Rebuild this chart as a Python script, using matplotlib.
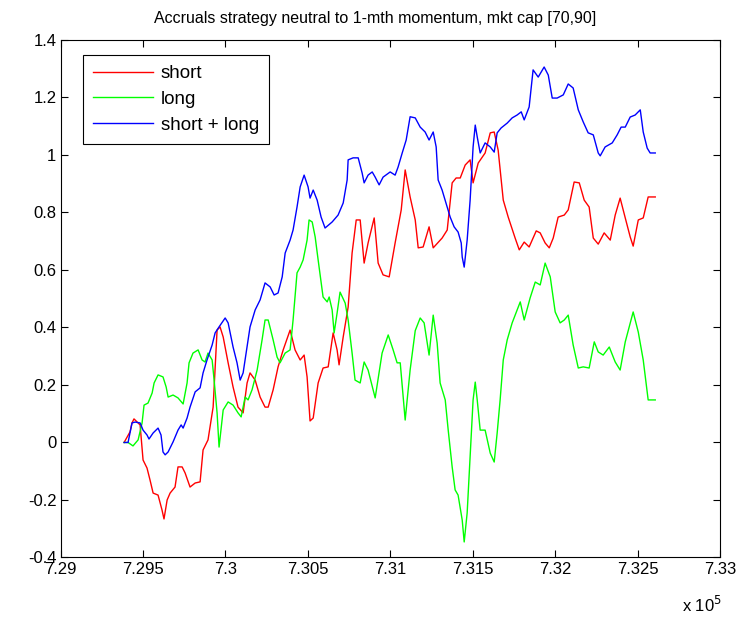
import matplotlib
matplotlib.use("Agg")
import matplotlib.pyplot as plt
from matplotlib.ticker import FuncFormatter

plt.rcParams['font.family'] = ['Liberation Sans', 'DejaVu Sans']

# dates are matlab datenums
short_dates = [729385, 729421, 729433, 729445, 729482, 729500, 729524, 729542, 729561, 729591,
               729615, 729627, 729646, 729664, 729694, 729712, 729737, 729755, 729785, 729816,
               729846, 729864, 729894, 729925, 729949, 729967, 729986, 730016, 730046, 730076,
               730107, 730131, 730149, 730180, 730210, 730240, 730259, 730289, 730319, 730350,
               730392, 730422, 730453, 730477, 730495, 730513, 730532, 730562, 730592, 730623,
               730653, 730677, 730689, 730714, 730744, 730768, 730793, 730817, 730841, 730865,
               730902, 730926, 730956, 730993, 731029, 731066, 731090, 731120, 731151, 731169,
               731199, 731235, 731260, 731314, 731345, 731375, 731399, 731424, 731454, 731484,
               731502, 731533, 731575, 731606, 731630, 731654, 731685, 731715, 731757, 731782,
               731812, 731842, 731885, 731909, 731939, 731964, 731988, 732018, 732055, 732079,
               732115, 732146, 732176, 732206, 732231, 732261, 732297, 732334, 732364, 732394,
               732425, 732455, 732473, 732504, 732534, 732564, 732607]
short = [0.0, 0.037, 0.068, 0.082, 0.061, -0.061, -0.089, -0.130, -0.176, -0.183,
         -0.235, -0.266, -0.200, -0.176, -0.155, -0.085, -0.085, -0.106, -0.155, -0.141,
         -0.137, -0.026, 0.009, 0.123, 0.391, 0.402, 0.367, 0.277, 0.193, 0.123,
         0.103, 0.207, 0.242, 0.217, 0.158, 0.123, 0.123, 0.183, 0.263, 0.322,
         0.391, 0.322, 0.287, 0.304, 0.228, 0.075, 0.085, 0.207, 0.259, 0.263,
         0.381, 0.322, 0.270, 0.367, 0.471, 0.659, 0.774, 0.774, 0.624, 0.694,
         0.781, 0.624, 0.583, 0.576, 0.694, 0.809, 0.948, 0.854, 0.774, 0.677,
         0.680, 0.750, 0.677, 0.711, 0.739, 0.903, 0.920, 0.920, 0.965, 0.983,
         0.903, 0.972, 1.007, 1.077, 1.080, 1.017, 0.843, 0.784, 0.711, 0.670,
         0.697, 0.680, 0.736, 0.729, 0.694, 0.677, 0.711, 0.784, 0.791, 0.809,
         0.906, 0.903, 0.843, 0.819, 0.711, 0.690, 0.729, 0.704, 0.791, 0.850,
         0.781, 0.715, 0.683, 0.774, 0.781, 0.854, 0.854]

long_dates = [729385, 729409, 729439, 729470, 729494, 729506, 729530, 729555, 729567, 729591,
              729621, 729640, 729652, 729682, 729712, 729743, 729767, 729779, 729803, 729834,
              729858, 729876, 729894, 729919, 729931, 729949, 729961, 729986, 730016, 730046,
              730076, 730095, 730119, 730137, 730161, 730192, 730222, 730240, 730259, 730289,
              730313, 730331, 730362, 730392, 730410, 730434, 730453, 730471, 730495, 730507,
              730526, 730544, 730562, 730592, 730617, 730629, 730647, 730659, 730677, 730695,
              730726, 730744, 730768, 730786, 730817, 730841, 730865, 730896, 730908, 730950,
              730987, 731017, 731041, 731060, 731090, 731120, 731151, 731181, 731205, 731235,
              731260, 731284, 731302, 731333, 731351, 731375, 731393, 731411, 731436, 731448,
              731466, 731484, 731502, 731515, 731527, 731545, 731575, 731606, 731630, 731648,
              731666, 731685, 731709, 731739, 731769, 731788, 731812, 731848, 731879, 731909,
              731939, 731970, 732000, 732030, 732055, 732079, 732109, 732140, 732170, 732206,
              732237, 732261, 732291, 732328, 732364, 732394, 732425, 732473, 732504, 732534,
              732564, 732607]
long = [0.0, 0.0, -0.012, 0.009, 0.068, 0.130, 0.137, 0.172, 0.207, 0.235,
        0.228, 0.193, 0.158, 0.165, 0.155, 0.134, 0.207, 0.277, 0.311, 0.322,
        0.287, 0.280, 0.311, 0.287, 0.217, 0.103, -0.016, 0.113, 0.141, 0.130,
        0.103, 0.089, 0.158, 0.148, 0.183, 0.252, 0.357, 0.426, 0.426, 0.357,
        0.297, 0.277, 0.311, 0.322, 0.426, 0.590, 0.610, 0.635, 0.704, 0.774,
        0.767, 0.715, 0.635, 0.506, 0.489, 0.506, 0.461, 0.381, 0.450, 0.523,
        0.485, 0.426, 0.311, 0.217, 0.207, 0.280, 0.252, 0.183, 0.155, 0.311,
        0.374, 0.322, 0.277, 0.277, 0.078, 0.252, 0.389, 0.433, 0.416, 0.304,
        0.443, 0.346, 0.207, 0.148, 0.043, -0.085, -0.165, -0.183, -0.270, -0.346,
        -0.245, -0.050, 0.148, 0.210, 0.148, 0.043, 0.043, -0.037, -0.068, 0.033,
        0.148, 0.287, 0.357, 0.416, 0.461, 0.489, 0.426, 0.503, 0.558, 0.548,
        0.624, 0.576, 0.454, 0.416, 0.426, 0.443, 0.339, 0.259, 0.263, 0.259,
        0.350, 0.315, 0.304, 0.332, 0.280, 0.252, 0.350, 0.454, 0.384, 0.287,
        0.148, 0.148]

both_dates = [729385, 729409, 729433, 729452, 729482, 729500, 729524, 729536, 729561, 729591,
              729609, 729621, 729634, 729652, 729682, 729712, 729731, 729743, 729767, 729785,
              729816, 729846, 729864, 729888, 729919, 729937, 729961, 729998, 730016, 730046,
              730070, 730089, 730107, 730131, 730149, 730180, 730210, 730240, 730271, 730295,
              730319, 730344, 730362, 730392, 730410, 730434, 730453, 730477, 730501, 730513,
              730532, 730556, 730580, 730604, 730647, 730683, 730714, 730738, 730744, 730774,
              730805, 730829, 730841, 730865, 730890, 730908, 730932, 730956, 730999, 731029,
              731047, 731072, 731096, 731120, 731151, 731181, 731211, 731235, 731260, 731278,
              731290, 731314, 731345, 731363, 731387, 731411, 731430, 731436, 731448, 731466,
              731484, 731502, 731515, 731527, 731545, 731575, 731606, 731630, 731648, 731672,
              731709, 731739, 731769, 731794, 731812, 731842, 731866, 731897, 731933, 731958,
              731982, 732012, 732049, 732079, 732109, 732140, 732170, 732200, 732231, 732261,
              732273, 732303, 732346, 732376, 732400, 732425, 732455, 732485, 732516, 732534,
              732558, 732576, 732607]
both = [0.0, 0.0, 0.068, 0.071, 0.068, 0.043, 0.026, 0.012, 0.033, 0.050,
        0.026, -0.033, -0.043, -0.033, 0.002, 0.043, 0.061, 0.050, 0.085, 0.123,
        0.176, 0.190, 0.242, 0.287, 0.339, 0.381, 0.402, 0.433, 0.416, 0.332,
        0.277, 0.217, 0.242, 0.332, 0.402, 0.461, 0.496, 0.555, 0.541, 0.513,
        0.520, 0.576, 0.659, 0.704, 0.739, 0.819, 0.889, 0.930, 0.889, 0.850,
        0.878, 0.843, 0.784, 0.746, 0.767, 0.791, 0.833, 0.913, 0.983, 0.990,
        0.990, 0.937, 0.903, 0.930, 0.941, 0.923, 0.896, 0.923, 0.941, 0.930,
        0.958, 1.007, 1.052, 1.133, 1.129, 1.097, 1.080, 1.052, 1.080, 1.028,
        0.913, 0.878, 0.819, 0.784, 0.750, 0.732, 0.694, 0.645, 0.610, 0.704,
        0.843, 1.028, 1.104, 1.063, 1.007, 1.042, 1.028, 1.010, 1.077, 1.094,
        1.111, 1.129, 1.139, 1.150, 1.122, 1.167, 1.296, 1.271, 1.306, 1.278,
        1.198, 1.198, 1.209, 1.247, 1.233, 1.157, 1.115, 1.077, 1.070, 1.007,
        0.997, 1.028, 1.042, 1.070, 1.097, 1.097, 1.132, 1.139, 1.157, 1.080,
        1.024, 1.007, 1.007]

title = "Accruals strategy neutral to 1-mth momentum, mkt cap [70,90]"
xticks = [729000, 729500, 730000, 730500, 731000, 731500, 732000, 732500, 733000]
yticks = [-0.4, -0.2, 0, 0.2, 0.4, 0.6, 0.8, 1.0, 1.2, 1.4]

fig = plt.figure(figsize=(7.44, 6.19), dpi=100)
ax = fig.add_axes([0.0815, 0.0994, 0.8863, 0.836])

ax.plot(short_dates, short, color=(1, 0, 0), lw=1.0, label="short")
ax.plot(long_dates, long, color=(0, 1, 0), lw=1.0, label="long")
ax.plot(both_dates, both, color=(0, 0, 1), lw=1.0, label="short + long")

ax.set_xlim(729000, 733000)
ax.set_ylim(-0.4, 1.4)
ax.set_xticks(xticks)
ax.set_yticks(yticks)
ax.xaxis.set_major_formatter(FuncFormatter(lambda v, p: "%g" % (v / 1e5)))
ax.yaxis.set_major_formatter(FuncFormatter(lambda v, p: "%g" % round(v, 1)))
ax.tick_params(direction='in', top=True, right=True, length=5, width=0.8,
               labelsize=12, pad=3)
for s in ax.spines.values():
    s.set_linewidth(0.8)

ax.set_title(title, fontsize=11.5, pad=12, x=0.477)
fig.text(0.970, 0.006, r"x 10$^5$", ha='right', va='bottom', fontsize=12)

leg = ax.legend(loc='upper left', bbox_to_anchor=(0.034, 0.971), borderaxespad=0,
                fontsize=13.5, handlelength=3.2, handletextpad=0.4, fancybox=False,
                framealpha=1, edgecolor='black', borderpad=0.55, labelspacing=0.45)
leg.get_frame().set_linewidth(0.8)

plt.savefig("out.png", dpi=100)
